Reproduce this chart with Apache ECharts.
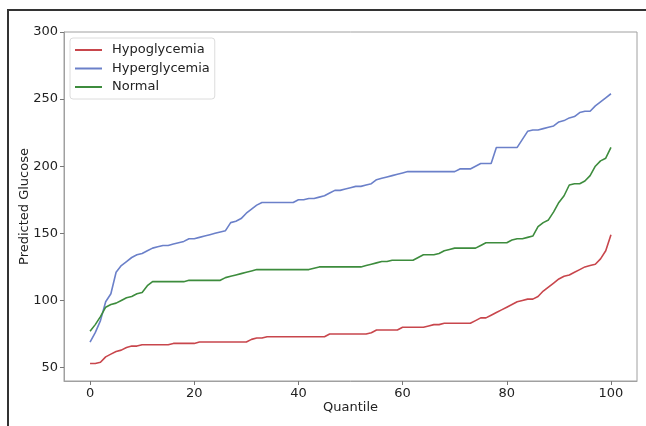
<!DOCTYPE html>
<html>
<head>
<meta charset="utf-8">
<script src="https://cdn.jsdelivr.net/npm/echarts@6/dist/echarts.min.js"></script>
<style>html,body{margin:0;padding:0;background:#fff;}#c{width:646px;height:426px;}</style>
</head>
<body>
<div id="c"></div>
<script>
const quantiles = Array.from({length: 101}, (_, i) => i);
const hypoglycemia = [53,53,54,58,60,62,63,65,66,66,67,67,67,67,67,67,68,68,68,68,68,69,69,69,69,69,69,69,69,69,69,71,72,72,73,73,73,73,73,73,73,73,73,73,73,73,75,75,75,75,75,75,75,75,76,78,78,78,78,78,80,80,80,80,80,81,82,82,83,83,83,83,83,83,85,87,87,89,91,93,95,97,99,100,101,101,103,107,110,113,116,118,119,121,123,125,126,127,131,137,149];
const hyperglycemia = [69,76,85,99,105,121,126,129,132,134,135,137,139,140,141,141,142,143,144,146,146,147,148,149,150,151,152,158,159,161,165,168,171,173,173,173,173,173,173,173,175,175,176,176,177,178,180,182,182,183,184,185,185,186,187,190,191,192,193,194,195,196,196,196,196,196,196,196,196,196,196,198,198,198,200,202,202,202,214,214,214,214,214,220,226,227,227,228,229,230,233,234,236,237,240,241,241,245,248,251,254];
const normal = [77,82,88,95,97,98,100,102,103,105,106,111,114,114,114,114,114,114,114,115,115,115,115,115,115,115,117,118,119,120,121,122,123,123,123,123,123,123,123,123,123,123,123,124,125,125,125,125,125,125,125,125,125,126,127,128,129,129,130,130,130,130,130,132,134,134,134,135,137,138,139,139,139,139,139,141,143,143,143,143,143,145,146,146,147,148,155,158,160,166,173,178,186,187,187,189,193,200,204,206,214];
const xTicks = [0,20,40,60,80,100];
const yTicks = [50,100,150,200,250,300];

const font = 'DejaVu Sans';
function pairs(arr){ return arr.map((v,i)=>[quantiles[i], v]); }
const chart = echarts.init(document.getElementById('c'), null, {renderer:'canvas'});
chart.setOption({
  animation: false,
  backgroundColor: '#fff',
  textStyle: {fontFamily: font},
  graphic: [{
    type: 'rect', shape: {x: 8, y: 10, width: 700, height: 500},
    style: {fill: 'none', stroke: '#333', lineWidth: 2}, silent: true, z: -10
  }],
  grid: {left: 64, top: 32, right: 9, bottom: 45, show: true, borderColor: '#a0a0a0', borderWidth: 1},
  legend: {
    left: 70, top: 38, orient: 'vertical',
    data: ['Hypoglycemia','Hyperglycemia','Normal'],
    icon: 'rect', itemWidth: 27, itemHeight: 2, itemGap: 4.5,
    backgroundColor: '#fff', borderColor: '#dcdcdc', borderWidth: 1, borderRadius: 3,
    padding: [5, 5, 5, 5],
    textStyle: {fontFamily: font, fontSize: 13, color: '#222', lineHeight: 14, padding: [0,0,0,5]}
  },
  xAxis: {
    type: 'value', min: -5, max: 105,
    name: 'Quantile', nameLocation: 'middle', nameGap: 20, nameMoveOverlap: false,
    nameTextStyle: {fontFamily: font, fontSize: 13, color: '#222'},
    axisLine: {show: true, onZero: false, lineStyle: {color: '#a0a0a0'}},
    axisTick: {show: true, length: 4, lineStyle: {color: '#777'}, customValues: xTicks},
    axisLabel: {fontFamily: font, fontSize: 13, color: '#222', margin: 6, customValues: xTicks},
    splitLine: {show: false}
  },
  yAxis: {
    type: 'value', min: 40, max: 300,
    name: 'Predicted Glucose', nameLocation: 'middle', nameGap: 33, nameMoveOverlap: false,
    nameTextStyle: {fontFamily: font, fontSize: 13, color: '#222'},
    axisLine: {show: true, onZero: false, lineStyle: {color: '#a0a0a0'}},
    axisTick: {show: true, length: 4, lineStyle: {color: '#777'}, customValues: yTicks},
    axisLabel: {fontFamily: font, fontSize: 13, color: '#222', margin: 6, customValues: yTicks},
    splitLine: {show: false}
  },
  series: [
    {name: 'Hypoglycemia', type: 'line', data: pairs(hypoglycemia), showSymbol: false, symbol: 'none',
     itemStyle: {color: '#c8464c'}, lineStyle: {color: '#c8464c', width: 1.6}},
    {name: 'Hyperglycemia', type: 'line', data: pairs(hyperglycemia), showSymbol: false, symbol: 'none',
     itemStyle: {color: '#6b80c9'}, lineStyle: {color: '#6b80c9', width: 1.6}},
    {name: 'Normal', type: 'line', data: pairs(normal), showSymbol: false, symbol: 'none',
     itemStyle: {color: '#3d8c3d'}, lineStyle: {color: '#3d8c3d', width: 1.6}}
  ]
});
</script>
</body>
</html>
